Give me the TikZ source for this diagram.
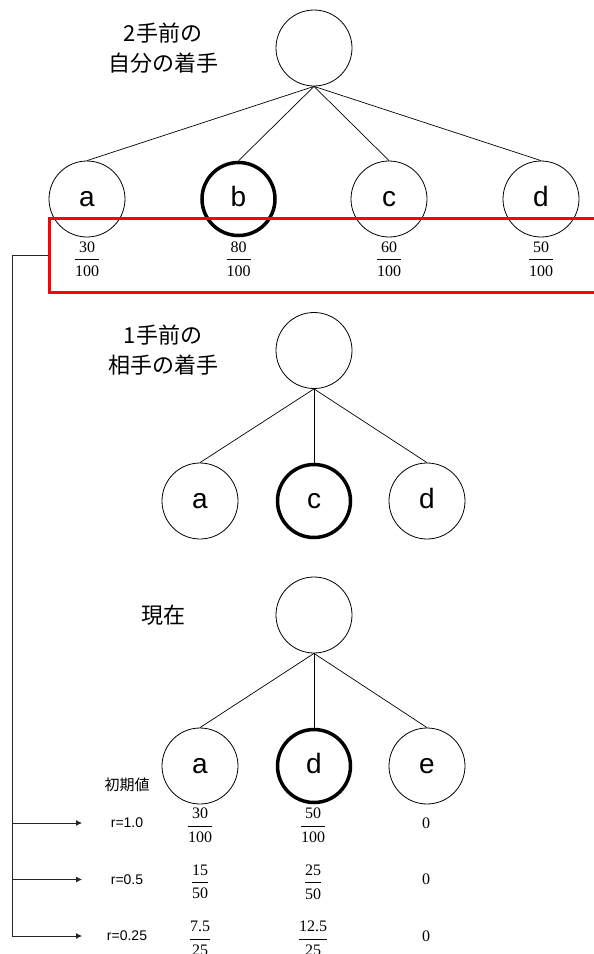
\documentclass[tikz,border=0pt]{standalone}
\usepackage{amsmath}
\usepackage{fontspec}
\setmainfont{Liberation Serif}
\setsansfont{Liberation Sans}
\newfontfamily\jpfont{Noto Sans CJK JP}
\usetikzlibrary{arrows.meta, positioning}

% fraction set in the text font
\newcommand{\fr}[2]{$\genfrac{}{}{0.8pt}{0}{\text{#1}}{\text{#2}}$}

\begin{document}
\begin{tikzpicture}[
  x=1pt, y=-1pt,
  mv/.style={circle, draw, line width=0.8pt, minimum size=76pt, inner sep=0pt,
    text height=14.5pt, text depth=0pt,
    font=\sffamily\fontsize{28}{30}\selectfont},
  pick/.style={mv, line width=3.5pt, minimum size=73pt},
  edge/.style={line width=0.7pt},
  tag/.style={align=center, font=\jpfont\fontsize{22}{30}\selectfont},
  smalltag/.style={font=\jpfont\fontsize{15}{18}\selectfont},
  rlab/.style={font=\sffamily\fontsize{14}{16}\selectfont},
  val/.style={inner sep=0pt, font=\fontsize{16}{19}\selectfont},
  wire/.style={line width=0.8pt, black!85},
  arr/.style={wire, -{Latex[length=6pt, width=6pt]}},
  redbox/.style={draw=red, line width=3pt, minimum width=561pt,
    minimum height=73.5pt, inner sep=0pt}
]
  \useasboundingbox (0,0) rectangle (594,954);

  % two moves back: own move
  \node[mv] (troot) at (314,48) {};
  \node[tag] (ttag) at (163,48) {2手前の\\自分の着手};
  \foreach \n/\x/\s/\num in {a/87/mv/30, b/238.5/pick/80, c/389/mv/60, d/541/mv/50} {
    \node[\s] (t\n) at (\x,199) {\n};
    \draw[edge] (troot.south) -- (t\n.north);
    \node[val] (f\n) at (\x,259) {\fr{\num}{100}};
  }
  \node[redbox] (box) at (329.5,255.25) {};

  % one move back: opponent
  \node[mv] (mroot) at (314,350.5) {};
  \node[tag] (mtag) at (163,350) {1手前の\\相手の着手};
  \foreach \n/\x/\s in {a/200/mv, c/314/pick, d/427/mv} {
    \node[\s] (m\n) at (\x,501) {\n};
    \draw[edge] (mroot.south) -- (m\n.north);
  }

  % current position
  \node[mv] (nroot) at (314,615) {};
  \node[tag] (ntag) at (163,615) {現在};
  \foreach \n/\x/\s in {a/200/mv, d/314/pick, e/427/mv} {
    \node[\s] (n\n) at (\x,766) {\n};
    \draw[edge] (nroot.south) -- (n\n.north);
  }
  \node[smalltag] (init) at (127,785) {初期値};

  % decayed values
  \foreach \i/\y/\r/\an/\ad/\dn/\dd in {1/823/1.0/30/100/50/100,
      2/879.5/0.5/15/50/25/50, 3/936/0.25/7.5/25/12.5/25} {
    \coordinate (v\i) at (12,\y);
    \coordinate (h\i) at (82,\y);
    \draw[arr] (v\i) -- (h\i);
    \node[rlab] (r\i) at (127,\y) {r=\r};
    \node[val] (pa\i) at (200,\y+2.5) {\fr{\an}{\ad}};
    \node[val] (pd\i) at (313,\y+2.5) {\fr{\dn}{\dd}};
    \node[val] (pe\i) at (426,\y) {0};
  }
  \draw[wire] (box.west) -| (v3);
\end{tikzpicture}
\end{document}
